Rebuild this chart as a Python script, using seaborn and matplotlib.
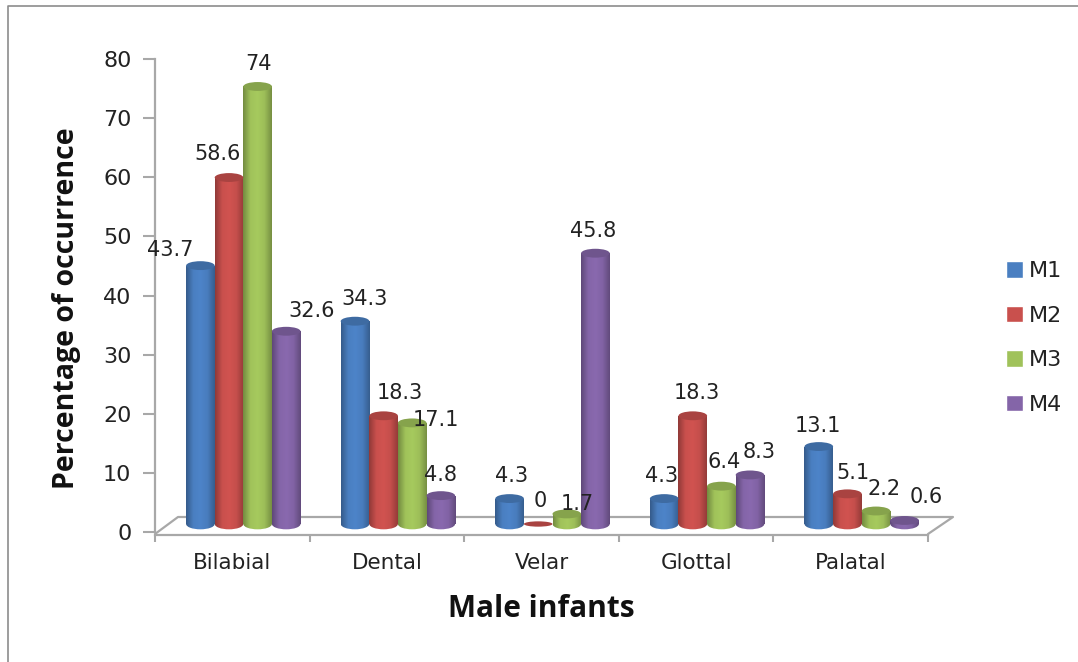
import numpy as np
import pandas as pd
import matplotlib
matplotlib.use('Agg')
import matplotlib.pyplot as plt
import seaborn as sns
from matplotlib.colors import LinearSegmentedColormap, to_rgb
from matplotlib.lines import Line2D
from matplotlib.patches import Ellipse, Rectangle

places = ['Bilabial', 'Dental', 'Velar', 'Glottal', 'Palatal']
infants = ['M1', 'M2', 'M3', 'M4']
m1 = [43.7, 34.3, 4.3, 4.3, 13.1]
m2 = [58.6, 18.3, 0, 18.3, 5.1]
m3 = [74, 17.1, 1.7, 6.4, 2.2]
m4 = [32.6, 4.8, 45.8, 8.3, 0.6]
colors = ['#4a7fc1', '#c9504d', '#a0c25a', '#8465a8']

# label offsets from bar top in pixels, excel moved these about by hand
label_offsets = {
    'M1': [(-30, 16), (10, 22), (2, 23), (-3, 23), (-1, 21)],
    'M2': [(-11, 24), (16, 23), (2, 23), (4, 23), (6, 21)],
    'M3': [(1, 22), (24, 3), (10, 10), (3, 24), (8, 22)],
    'M4': [(25, 20), (0, 21), (-2, 22), (9, 23), (22, 23)],
}

W, H = 1078, 662
sns.set_theme(style='ticks')
plt.rcParams['font.family'] = ['DejaVu Sans']

df = pd.DataFrame({
    'place': places * 4,
    'infant': np.repeat(infants, 5),
    'pct': m1 + m2 + m3 + m4,
})


def px_axes(fig, left, right, bottom, top):
    return fig.add_axes([left / W, (H - bottom) / H, (right - left) / W, (bottom - top) / H])


def px_line(fig, xs, ys, color='#a8a8a8', lw=1.6):
    # negative zorder keeps these behind the bars
    fig.add_artist(Line2D([x / W for x in xs], [(H - y) / H for y in ys], color=color, lw=lw, zorder=-1))


def shade(color, f):
    return tuple(min(1, c * f) for c in to_rgb(color))


fig = plt.figure(figsize=(W / 100, H / 100), dpi=100)

# outer frame of the pasted picture
px_line(fig, [8, 8, W], [H, 6, 6], color='#8c8c8c', lw=1.2)

# front axes with ticks and labels
ax = px_axes(fig, 155, 928, 532, 59)
ax.set_xlim(0, 5)
ax.set_ylim(0, 80)
ax.set_xticks(range(6))
ax.set_xticklabels([])
ax.set_xticks(np.arange(5) + 0.5, places, minor=True)
ax.set_yticks(range(0, 81, 10))
ax.tick_params(axis='x', which='major', length=5, width=1.5, color='#a8a8a8', direction='out', pad=2)
ax.tick_params(axis='x', which='minor', length=0, pad=13, labelsize=15.5, labelcolor='#222222')
ax.tick_params(axis='y', length=9, width=1.5, color='#a8a8a8', direction='out', pad=8,
               labelsize=16, labelcolor='#222222')
sns.despine(ax=ax, top=True, right=True)
ax.spines['left'].set_color('#a8a8a8')
ax.spines['left'].set_linewidth(1.6)
ax.spines['bottom'].set_color('#a8a8a8')
ax.spines['bottom'].set_linewidth(1.6)
ax.spines['bottom'].set_position(('outward', 2))
ax.patch.set_alpha(0)

# floor of the fake 3d box
px_line(fig, [155, 178, 953, 928], [534, 517, 517, 534])

fig.text(541 / W, (H - 609) / H, 'Male infants', ha='center', va='center',
         fontsize=21.5, fontweight='bold', family='Open Sans', color='#111111')
fig.text(67 / W, (H - 308) / H, 'Percentage of occurrence', ha='center', va='center',
         rotation=90, fontsize=20.5, fontweight='bold', family='Open Sans', color='#111111')

# bars sit on the back of the floor so they get their own shifted axes
ax_bars = px_axes(fig, 166, 939, 524, 51)
sns.barplot(data=df, x='place', y='pct', hue='infant', order=places, hue_order=infants,
            palette=colors, width=0.74, gap=0, saturation=1, ax=ax_bars)
ax_bars.set_xlim(-0.5, 4.5)
ax_bars.set_ylim(0, 80)
ax_bars.patch.set_alpha(0)

cap_h = 1.5
for infant, color, container in zip(infants, colors, ax_bars.containers):
    cmap = LinearSegmentedColormap.from_list(
        infant, [shade(color, 0.72), shade(color, 1.0), shade(color, 1.04), shade(color, 0.98), shade(color, 0.74)])
    grad = np.linspace(0, 1, 64).reshape(1, -1)
    vals = df[df['infant'] == infant]['pct'].values
    for i, bar in enumerate(container):
        x, w, h = bar.get_x(), bar.get_width(), bar.get_height()
        bar.set_visible(False)
        ext = (x, x + w, -cap_h, h + 0.01)
        if h > 0:
            base = Ellipse((x + w / 2, 0), w, cap_h * 1.2, transform=ax_bars.transData)
            im = ax_bars.imshow(grad, extent=ext, aspect='auto', cmap=cmap, zorder=3)
            im.set_clip_path(base)
            im.set_clip_box(fig.bbox)
            body = Rectangle((x, 0), w, h, transform=ax_bars.transData)
            im = ax_bars.imshow(grad, extent=ext, aspect='auto', cmap=cmap, zorder=3)
            im.set_clip_path(body)
        ax_bars.add_patch(Ellipse((x + w / 2, h), w, cap_h if h > 0 else cap_h * 0.6,
                                  facecolor=shade(color, 0.84), edgecolor='none', zorder=4, clip_on=False))
        dx, dy = label_offsets[infant][i]
        ax_bars.annotate(f'{vals[i]:g}', (x + w / 2, h), xytext=(dx, dy), textcoords='offset pixels',
                         ha='center', va='center', fontsize=15, color='#222222', zorder=6,
                         annotation_clip=False)
ax_bars.set_xlim(-0.5, 4.5)
ax_bars.set_ylim(0, 80)
ax_bars.axis('off')

sns.move_legend(ax_bars, loc='center left', bbox_to_anchor=(986 / W, (H - 338) / H),
                bbox_transform=fig.transFigure, frameon=False, title=None, fontsize=16,
                handlelength=0.75, handleheight=0.75, handletextpad=0.3, labelspacing=1.1,
                labelcolor='#222222')

fig.savefig('out.png', dpi=100)
